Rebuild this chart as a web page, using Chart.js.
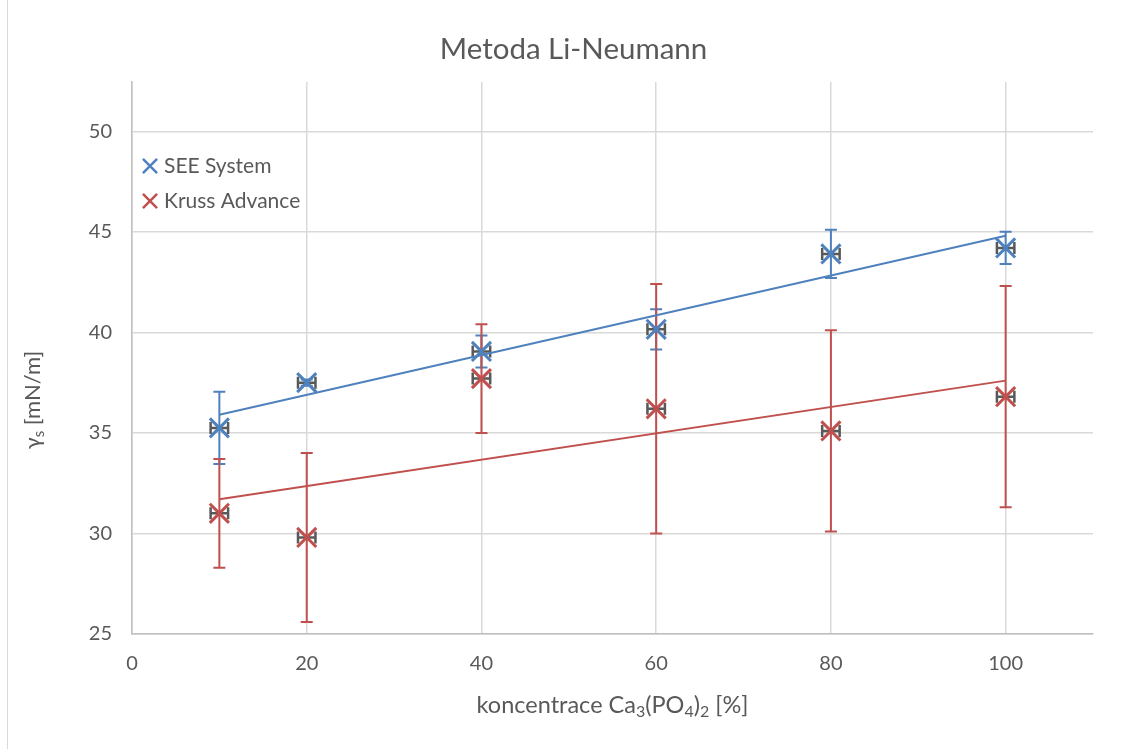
<!DOCTYPE html>
<html>
<head>
<meta charset="utf-8">
<script src="https://cdn.jsdelivr.net/npm/chart.js@4.4.1/dist/chart.umd.min.js"></script>
<style>
  html, body { margin: 0; padding: 0; background: #ffffff; }
  #wrap { width: 1138px; height: 749px; position: relative; }
</style>
</head>
<body>
<div id="wrap"><canvas id="graf" width="1138" height="749"></canvas></div>
<script>
// koncentrace v %
const koncentrace = [10, 20, 40, 60, 80, 100];

// SEE System - průměr a směrodatná odchylka
const seeHodnoty = [35.25, 37.5, 39.05, 40.15, 43.9, 44.2];
const seeChyby = [1.8, 0.15, 0.8, 1.0, 1.2, 0.8];

// Kruss Advance - průměr a směrodatná odchylka
const krussHodnoty = [31.0, 29.8, 37.7, 36.2, 35.1, 36.8];
const krussChyby = [2.7, 4.2, 2.7, 6.2, 5.0, 5.5];

// vodorovná chyba koncentrace
const xChyba = 1;

// lineární trendy (krajní body)
const trendX = [10, 100];
const seeTrend = [35.9, 44.8];
const krussTrend = [31.7, 37.6];

const modra = '#4F81BD';
const cervena = '#C0504D';
const seda = '#595959';
const pismo = 'Lato, "Open Sans", sans-serif';

function body(xs, ys) {
    return xs.map(function (x, i) { return {x: x, y: ys[i]}; });
}

/**
 * Chybové úsečky (svislé v barvě řady, vodorovné šedé)
 */
const chybovky = {
    id: 'chybovky',
    beforeDatasetsDraw(chart) {
        const ctx = chart.ctx;
        const sx = chart.scales.x;
        const sy = chart.scales.y;
        ctx.save();
        ctx.lineCap = 'butt';
        chart.data.datasets.forEach(function (ds) {
            if (!ds.chyby) return;
            ds.data.forEach(function (p, i) {
                const e = ds.chyby[i];
                const px = sx.getPixelForValue(p.x);
                const py = sy.getPixelForValue(p.y);
                const top = sy.getPixelForValue(p.y + e);
                const bot = sy.getPixelForValue(p.y - e);
                ctx.strokeStyle = ds.borderColor;
                ctx.lineWidth = 2;
                ctx.beginPath();
                ctx.moveTo(px, top); ctx.lineTo(px, bot);
                ctx.moveTo(px - 6, top); ctx.lineTo(px + 6, top);
                ctx.moveTo(px - 6, bot); ctx.lineTo(px + 6, bot);
                ctx.stroke();

                const l = sx.getPixelForValue(p.x - xChyba);
                const r = sx.getPixelForValue(p.x + xChyba);
                ctx.strokeStyle = seda;
                ctx.lineWidth = 2.5;
                ctx.beginPath();
                ctx.moveTo(l, py); ctx.lineTo(r, py);
                ctx.moveTo(l, py - 6); ctx.lineTo(l, py + 6);
                ctx.moveTo(r, py - 6); ctx.lineTo(r, py + 6);
                ctx.stroke();
            });
        });
        ctx.restore();
    }
};

/**
 * Popisky os (s dolními indexy) a legenda v ploše grafu
 */
function bohatyText(ctx, casti, x, y, vel, zarovnat) {
    const male = vel * 0.68;
    let sirka = 0;
    casti.forEach(function (c) {
        ctx.font = (c.sub ? male : vel) + 'px ' + pismo;
        sirka += ctx.measureText(c.t).width;
    });
    let cx = zarovnat === 'center' ? x - sirka / 2 : x;
    casti.forEach(function (c) {
        ctx.font = (c.sub ? male : vel) + 'px ' + pismo;
        ctx.fillText(c.t, cx, c.sub ? y + vel * 0.28 : y);
        cx += ctx.measureText(c.t).width;
    });
}

const popisky = {
    id: 'popisky',
    afterDraw(chart) {
        const ctx = chart.ctx;
        const a = chart.chartArea;
        ctx.save();
        ctx.fillStyle = seda;
        ctx.textBaseline = 'middle';
        ctx.textAlign = 'left';

        bohatyText(ctx, [
            {t: 'koncentrace Ca'}, {t: '3', sub: true}, {t: '(PO'}, {t: '4', sub: true},
            {t: ')'}, {t: '2', sub: true}, {t: ' [%]'}
        ], (a.left + a.right) / 2, 705, 23.5, 'center');

        ctx.save();
        ctx.translate(33, 400);
        ctx.rotate(-Math.PI / 2);
        bohatyText(ctx, [{t: 'γ'}, {t: 's', sub: true}, {t: ' [mN/m]'}], 0, 0, 22, 'center');
        ctx.restore();

        // legenda
        const polozky = [
            {text: 'SEE System', barva: modra, y: 166},
            {text: 'Kruss Advance', barva: cervena, y: 201}
        ];
        polozky.forEach(function (p) {
            ctx.strokeStyle = p.barva;
            ctx.lineWidth = 2.5;
            Chart.helpers.drawPoint(ctx, {pointStyle: 'crossRot', radius: 10, rotation: 0, borderWidth: 2.5}, 150, p.y);
            ctx.font = '21px ' + pismo;
            ctx.fillText(p.text, 164, p.y);
        });

        // levý okraj grafu
        ctx.strokeStyle = '#D9D9D9';
        ctx.lineWidth = 1;
        ctx.beginPath();
        ctx.moveTo(7.5, 0);
        ctx.lineTo(7.5, 749);
        ctx.stroke();
        ctx.restore();
    }
};

let ctx = document.getElementById('graf').getContext('2d');
let graf = new Chart(ctx, {
    type: 'scatter',
    data: {
        datasets: [{
            label: 'SEE System',
            data: body(koncentrace, seeHodnoty),
            chyby: seeChyby,
            borderColor: modra,
            backgroundColor: modra,
            pointStyle: 'crossRot',
            pointRadius: 13.5,
            pointBorderWidth: 3,
            order: 1
        }, {
            label: 'Kruss Advance',
            data: body(koncentrace, krussHodnoty),
            chyby: krussChyby,
            borderColor: cervena,
            backgroundColor: cervena,
            pointStyle: 'crossRot',
            pointRadius: 13.5,
            pointBorderWidth: 3,
            order: 2
        }, {
            label: 'trend SEE',
            data: body(trendX, seeTrend),
            showLine: true,
            borderColor: modra,
            borderWidth: 2,
            pointRadius: 0,
            order: 3
        }, {
            label: 'trend Kruss',
            data: body(trendX, krussTrend),
            showLine: true,
            borderColor: cervena,
            borderWidth: 2,
            pointRadius: 0,
            order: 4
        }]
    },
    options: {
        responsive: false,
        animation: false,
        layout: {padding: {left: 54, right: 45, top: 0, bottom: 0}},
        plugins: {
            legend: {display: false},
            tooltip: {enabled: false},
            title: {
                display: true,
                text: 'Metoda Li-Neumann',
                color: seda,
                font: {family: pismo, size: 29.5, weight: 'normal'},
                padding: {top: 32, bottom: 14.6}
            }
        },
        scales: {
            x: {
                type: 'linear',
                min: 0,
                max: 110,
                afterFit: function (s) { s.height = 115; },
                ticks: {stepSize: 20, includeBounds: false, color: seda, padding: 18,
                    font: {family: pismo, size: 20}},
                grid: {color: '#D9D9D9', lineWidth: 1.5, drawTicks: false},
                border: {color: '#BFBFBF', width: 1.5}
            },
            y: {
                type: 'linear',
                min: 25,
                max: 52.45,
                afterFit: function (s) { s.width = 78; },
                ticks: {stepSize: 5, includeBounds: false, color: seda, padding: 20,
                    font: {family: pismo, size: 20}},
                grid: {color: '#D9D9D9', lineWidth: 1.5, drawTicks: false},
                border: {color: '#BFBFBF', width: 1.5}
            }
        }
    },
    plugins: [chybovky, popisky]
});
</script>
</body>
</html>
